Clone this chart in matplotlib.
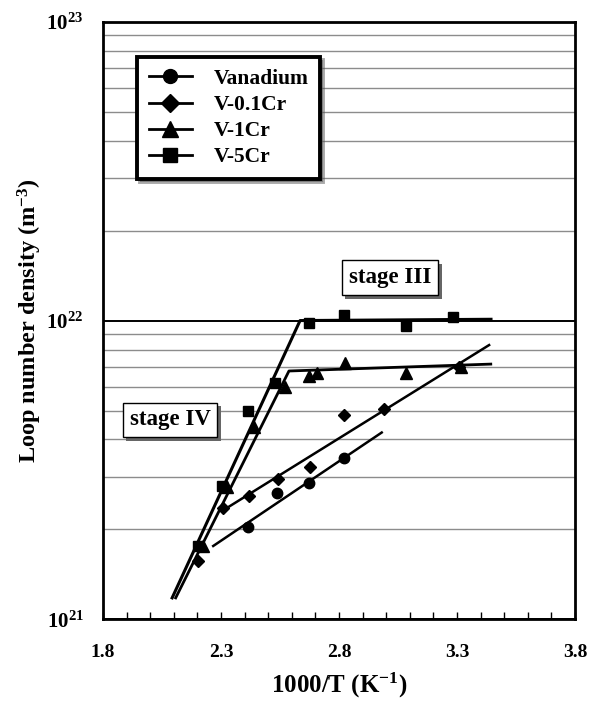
import numpy as np
import matplotlib
matplotlib.use('Agg')
from matplotlib import pyplot as plt
from matplotlib.lines import Line2D
from matplotlib.ticker import LogLocator, NullFormatter, FixedLocator, MultipleLocator
import matplotlib.patheffects as pe

# data (x = 1000/T, y = loop number density in m^-3)
v_x = [2.413, 2.536, 2.674, 2.823]
v_y = [2.03e21, 2.65e21, 2.85e21, 3.48e21]

cr01_x = [2.204, 2.307, 2.419, 2.540, 2.677, 2.823, 2.992, 3.31]
cr01_y = [1.57e21, 2.35e21, 2.59e21, 2.95e21, 3.23e21, 4.83e21, 5.05e21, 6.97e21]

cr1_x = [2.225, 2.324, 2.440, 2.571, 2.674, 2.708, 2.825, 3.084, 3.315]
cr1_y = [1.76e21, 2.77e21, 4.41e21, 6.00e21, 6.54e21, 6.66e21, 7.19e21, 6.69e21, 6.97e21]

cr5_x = [2.204, 2.303, 2.413, 2.529, 2.673, 2.823, 3.084, 3.284]
cr5_y = [1.76e21, 2.79e21, 4.99e21, 6.19e21, 9.83e21, 1.043e22, 9.59e21, 1.03e22]

# fitted lines
v_fit_x = [2.267, 2.981]
v_fit_y = [1.76e21, 4.22e21]
cr01_fit_x = [2.310, 3.436]
cr01_fit_y = [2.32e21, 8.28e21]
cr1_fit_x = [2.108, 2.588, 3.443]
cr1_fit_y = [1.18e21, 6.78e21, 7.15e21]
cr5_fit_x = [2.093, 2.635, 3.444]
cr5_fit_y = [1.18e21, 1.0e22, 1.01e22]

labels = ['Vanadium', 'V-0.1Cr', 'V-1Cr', 'V-5Cr']
xticks = [1.8, 2.3, 2.8, 3.3, 3.8]

plt.rcParams['font.family'] = ['Liberation Serif', 'DejaVu Serif']
plt.rcParams['font.weight'] = 'bold'
plt.rcParams['mathtext.fontset'] = 'custom'
plt.rcParams['mathtext.rm'] = 'Liberation Serif:bold'
plt.rcParams['mathtext.bf'] = 'Liberation Serif:bold'
plt.rcParams['mathtext.it'] = 'Liberation Serif:bold'

fig = plt.figure(figsize=(5.96, 7.03), dpi=100)
ax = fig.add_axes([0.1728, 0.119, 0.792, 0.850])

ax.set_yscale('log')
ax.set_xlim(1.8, 3.8)
ax.set_ylim(1e21, 1e23)

# grid lines
ax.yaxis.set_major_locator(FixedLocator([1e21, 1e22, 1e23]))
ax.yaxis.set_minor_locator(LogLocator(base=10, subs=np.arange(2, 10)))
ax.yaxis.set_minor_formatter(NullFormatter())
ax.grid(True, axis='y', which='major', color='black', lw=1.4)
ax.grid(True, axis='y', which='minor', color='#8c8c8c', lw=1.0)
ax.set_axisbelow(True)

mk = dict(color='black', linestyle='none', zorder=4)
ax.plot(v_x, v_y, marker='o', ms=7.5, **mk)
ax.plot(cr01_x, cr01_y, marker='D', ms=6.5, **mk)
ax.plot(cr1_x, cr1_y, marker='^', ms=9, **mk)
ax.plot(cr5_x, cr5_y, marker='s', ms=7.5, **mk)

ax.plot(v_fit_x, v_fit_y, color='black', lw=1.8, zorder=3)
ax.plot(cr01_fit_x, cr01_fit_y, color='black', lw=1.8, zorder=3)
ax.plot(cr1_fit_x, cr1_fit_y, color='black', lw=2.0, zorder=3)
ax.plot(cr5_fit_x, cr5_fit_y, color='black', lw=2.2, zorder=3)

# axes frame and ticks
for s in ax.spines.values():
    s.set_linewidth(2)
ax.xaxis.set_major_locator(FixedLocator(xticks))
ax.xaxis.set_minor_locator(MultipleLocator(0.1))
ax.set_xticklabels(['%.1f' % t for t in xticks])
ax.tick_params(axis='x', which='both', direction='in', length=5, width=1, pad=18, labelsize=14)
ax.tick_params(axis='y', which='both', length=0, pad=14, labelsize=15)
ax.set_yticklabels([r'$10^{21}$', r'$10^{22}$', r'$10^{23}$'])
for lab in ax.get_xticklabels() + ax.get_yticklabels():
    lab.set_fontweight('bold')

ax.set_xlabel(r'1000/T (K$^{-1}$)', fontsize=18, fontweight='bold', labelpad=7)
ax.set_ylabel(r'Loop number density (m$^{-3}$)', fontsize=17.5, fontweight='bold', labelpad=2)

# legend
handles = [
    Line2D([], [], color='black', lw=2, marker='o', ms=10),
    Line2D([], [], color='black', lw=2, marker='D', ms=9),
    Line2D([], [], color='black', lw=2, marker='^', ms=11),
    Line2D([], [], color='black', lw=2, marker='s', ms=10),
]
leg = ax.legend(handles, labels, loc='upper left', bbox_to_anchor=(0.072, 0.941),
                borderaxespad=0, fancybox=False, framealpha=1, edgecolor='black',
                prop={'family': 'Liberation Serif', 'weight': 'bold', 'size': 15.5},
                handlelength=2.0, handletextpad=1.0, labelspacing=0.28,
                borderpad=0.55, shadow={'color': '#555555'})
leg.get_frame().set_linewidth(2.8)
leg.set_zorder(6)


# stage labels in a small box with a shadow
def stage_label(x, y, txt):
    t = ax.text(x, y, txt, ha='center', va='center', fontsize=16.5, fontweight='bold',
                zorder=5, bbox=dict(boxstyle='square,pad=0.3', fc='white', ec='black', lw=1))
    t.get_bbox_patch().set_path_effects([
        pe.SimplePatchShadow(offset=(2.5, -2.5), shadow_rgbFace='#666666', alpha=1),
        pe.Normal()])


stage_label(3.016, 1.39e22, 'stage III')
stage_label(2.084, 4.65e21, 'stage IV')

fig.savefig('out.png', dpi=100)
